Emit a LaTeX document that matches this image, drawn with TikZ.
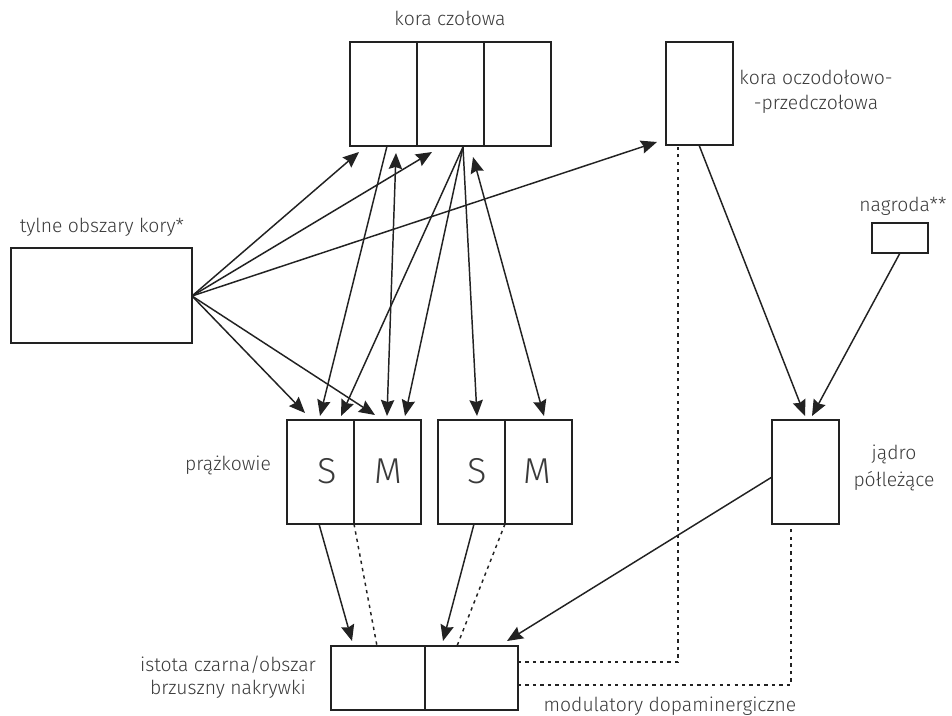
\documentclass[tikz,border=0pt]{standalone}
\usepackage{fontspec}
\IfFontExistsTF{Fira Sans Light}{\setmainfont{Fira Sans Light}}{\setmainfont{Fira Sans}}
\usetikzlibrary{arrows.meta,calc}
\definecolor{linec}{HTML}{222222}
\definecolor{textc}{HTML}{3A3A3A}
\begin{document}
\begin{tikzpicture}[x=0.75pt,y=-0.75pt,
 box/.style={draw=linec,line width=1.5pt,inner sep=0pt,outer sep=0pt},
 divider/.style={draw=linec,line width=1.5pt},
 lbl/.style={text=textc,inner sep=0pt,anchor=base,font=\fontsize{14.5}{17}\selectfont},
 big/.style={text=textc,inner sep=0pt,anchor=base,font=\fontsize{27}{30}\selectfont},
 arr/.style={draw=linec,line width=1.1pt,-{Stealth[length=12pt,width=10pt,inset=1.5pt]}},
 biarr/.style={draw=linec,line width=1.1pt,{Stealth[length=12pt,width=10pt,inset=1.5pt]}-{Stealth[length=12pt,width=10pt,inset=1.5pt]}},
 dots/.style={draw=linec,line width=1.1pt,dash pattern=on 2.5pt off 3.1pt}]
\useasboundingbox (0,0) rectangle (952,716);
\fill[white] (0,0) rectangle (952,716);

% boxes
\node[box,minimum width=150.75pt,minimum height=78pt] (fc) at (450.5,94) {};
\node[box,minimum width=135.75pt,minimum height=71.25pt] (tob) at (101.5,295.5) {};
\node[box,minimum width=50.25pt,minimum height=77.25pt] (ofc) at (699.5,93.5) {};
\node[box,minimum width=42pt,minimum height=22.5pt] (nag) at (900,238) {};
\node[box,minimum width=100.5pt,minimum height=78pt] (st1) at (354,472) {};
\node[box,minimum width=100.5pt,minimum height=78pt] (st2) at (505,472) {};
\node[box,minimum width=50.25pt,minimum height=78pt] (nac) at (805.5,472) {};
\node[box,minimum width=140.25pt,minimum height=48pt] (sn) at (424.5,678) {};

% dividers
\draw[divider] ($(fc.north west)!1/3!(fc.north east)$) -- ($(fc.south west)!1/3!(fc.south east)$);
\draw[divider] ($(fc.north west)!2/3!(fc.north east)$) -- ($(fc.south west)!2/3!(fc.south east)$);
\draw[divider] (st1.north) -- (st1.south);
\draw[divider] (st2.north) -- (st2.south);
\draw[divider] (sn.north) -- (sn.south);

% labels
\node[lbl] (lfc) at (450,26) {kora czołowa};
\node[lbl] (ltob) at (102,233) {tylne obszary kory*};
\node[lbl] (lofc1) at (816,85) {kora oczodołowo-};
\node[lbl] (lofc2) at (816,110) {-przedczołowa};
\node[lbl] (lnag) at (903,212) {nagroda**};
\node[lbl] (lst) at (228,470) {prążkowie};
\node[lbl] (lsn1) at (228,671) {istota czarna/obszar};
\node[lbl] (lsn2) at (228,694) {brzuszny nakrywki};
\node[lbl] (lnac1) at (894,459) {jądro};
\node[lbl] (lnac2) at (894,486) {półleżące};
\node[lbl] (lmod) at (670,711) {modulatory dopaminergiczne};
\node[big] (s1) at (327,483) {S};
\node[big] (m1) at (388,483) {M};
\node[big] (s2) at (477,483) {S};
\node[big] (m2) at (537,483) {M};

% connector end points
\coordinate (T) at (192,296);
\coordinate (F1) at (387,146);
\coordinate (F2) at (463,147);
\coordinate (fa1) at (359,152);
\coordinate (fa2) at (432,152);
\coordinate (fb1) at (396,153);
\coordinate (fb2) at (473,157);
\coordinate (oa) at (657,142);
\coordinate (p1) at (305,413);
\coordinate (p2) at (320,416);
\coordinate (p3) at (341,416);
\coordinate (p4) at (375,415);
\coordinate (p5) at (387,416);
\coordinate (p6) at (405,416);
\coordinate (p7) at (477,416);
\coordinate (p8) at (544,416);
\coordinate (ob) at (699,145);
\coordinate (nt1) at (805,416);
\coordinate (nt2) at (812,416);
\coordinate (nb) at (900,253);
\coordinate (ns) at (772,477);
\coordinate (q1) at (319,524);
\coordinate (q2) at (474,524);
\coordinate (r1) at (352,641);
\coordinate (r2) at (443,641);
\coordinate (r3) at (507,641);
\coordinate (d1) at (377,646);
\coordinate (d2) at (457,646);
\coordinate (e1) at (518,662);
\coordinate (e2) at (518,685);
\coordinate (ofcb) at (678,145);
\coordinate (nacb) at (791,524);

% posterior cortex projections
\draw[arr] (T) -- (fa1);
\draw[arr] (T) -- (fa2);
\draw[arr] (T) -- (oa);
\draw[arr] (T) -- (p1);
\draw[arr] (T) -- (p4);

% frontal <-> striatum
\draw[arr] (F1) -- (p2);
\draw[biarr] (fb1) -- (p5);
\draw[arr] (F2) -- (p3);
\draw[arr] (F2) -- (p6);
\draw[arr] (F2) -- (p7);
\draw[biarr] (fb2) -- (p8);

% OFC, reward -> NAcc
\draw[arr] (ob) -- (nt1);
\draw[arr] (nb) -- (nt2);

% to SN/VTA
\draw[arr] (q1) -- (r1);
\draw[arr] (q2) -- (r2);
\draw[arr] (ns) -- (r3);
\draw[dots] (st1.south) -- (d1);
\draw[dots] (st2.south) -- (d2);

% dopaminergic modulators
\draw[dots] (e1) -| (ofcb);
\draw[dots] (e2) -| (nacb);
\end{tikzpicture}
\end{document}
